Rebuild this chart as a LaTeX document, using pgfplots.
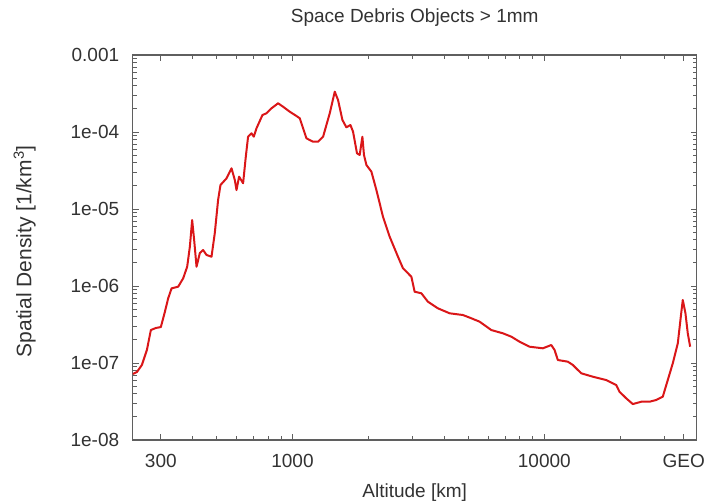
\documentclass[border=0pt]{standalone}
\usepackage{fontspec}
\setmainfont{Liberation Sans}
\usepackage{pgfplots}
\pgfplotsset{compat=1.18}

\definecolor{curvered}{RGB}{218,22,24}
\definecolor{axisgray}{RGB}{95,95,95}
\definecolor{textgray}{RGB}{50,50,50}
\newcommand\lbl{\fontsize{19}{22}\selectfont}

\begin{document}
\begin{tikzpicture}
\begin{axis}[
    at={(0,0)}, anchor=south west,
    scale only axis,
    width=564pt, height=385pt,
    xmode=log, ymode=log,
    xmin=232, xmax=40300,
    ymin=1e-8, ymax=1e-3,
    axis line style={axisgray, line width=1.2pt},
    every tick/.style={axisgray, line width=0.8pt},
    tick align=inside,
    major tick length=6pt, minor tick length=4pt,
    xtick={300,1000,10000,35786},
    xticklabels={300,1000,10000,GEO},
    minor xtick={300,400,500,600,700,800,900,2000,3000,4000,5000,6000,7000,8000,9000,20000,30000},
    ytick={1e-3,1e-4,1e-5,1e-6,1e-7,1e-8},
    yticklabels={0.001,1e-04,1e-05,1e-06,1e-07,1e-08},
    minor ytick={2e-8,3e-8,4e-8,5e-8,6e-8,7e-8,8e-8,9e-8,
                 2e-7,3e-7,4e-7,5e-7,6e-7,7e-7,8e-7,9e-7,
                 2e-6,3e-6,4e-6,5e-6,6e-6,7e-6,8e-6,9e-6,
                 2e-5,3e-5,4e-5,5e-5,6e-5,7e-5,8e-5,9e-5,
                 2e-4,3e-4,4e-4,5e-4,6e-4,7e-4,8e-4,9e-4},
    xticklabel style={font=\lbl, text=textgray, anchor=base, yshift=-27pt},
    yticklabel style={font=\lbl, text=textgray, anchor=east, xshift=-10pt},
    title={Space Debris Objects > 1mm},
    title style={font=\lbl, text=textgray, at={(0.5,1)}, anchor=base, yshift=27pt},
    xlabel={Altitude [km]},
    xlabel style={font=\lbl, text=textgray, at={(0.5,0)}, anchor=base, yshift=-57pt},
    ylabel={Spatial Density [1/km\textsuperscript{3}]},
    ylabel style={font=\fontsize{21}{24}\selectfont, text=textgray, at={(0,0.49)}, anchor=center, yshift=108pt},
]
\addplot[curvered, line width=2pt, line join=round] table {
x y
232.4 7.19e-8
241.1 7.64e-8
252.3 9.42e-8
264.1 1.475e-7
273.9 2.68e-7
286.7 2.85e-7
300.1 2.93e-7
311.3 4.60e-7
320.9 6.92e-7
331.1 9.33e-7
351.6 9.79e-7
368.1 1.259e-6
381.8 1.78e-6
391.3 3.24e-6
399.6 7.19e-6
406.9 3.96e-6
415.9 1.78e-6
428.6 2.68e-6
441.7 2.93e-6
455.7 2.53e-6
476.9 2.40e-6
491.5 4.88e-6
506.5 1.309e-5
517.7 2.05e-5
547.0 2.50e-5
572.7 3.38e-5
590.2 2.38e-5
599.4 1.765e-5
613.8 2.63e-5
636.7 2.16e-5
652.6 4.78e-5
666.4 8.69e-5
687.5 9.62e-5
702.1 8.69e-5
719.6 1.117e-4
760.1 1.662e-4
788.3 1.749e-4
825.3 2.03e-4
876.6 2.36e-4
917.5 2.13e-4
975.4 1.835e-4
1037 1.614e-4
1069 1.506e-4
1102 1.117e-4
1136 8.28e-5
1207 7.48e-5
1264 7.48e-5
1323 8.69e-5
1406 1.749e-4
1472 3.34e-4
1517 2.60e-4
1579 1.431e-4
1637 1.151e-4
1699 1.233e-4
1740 1.009e-4
1804 5.29e-5
1849 5.03e-5
1895 8.69e-5
1923 5.03e-5
1966 3.73e-5
2058 3.05e-5
2154 1.765e-5
2288 7.94e-6
2432 4.37e-6
2624 2.40e-6
2747 1.698e-6
2966 1.32e-6
3056 8.43e-7
3250 8.04e-7
3451 6.25e-7
3781 5.13e-7
4209 4.42e-7
4752 4.20e-7
5131 3.81e-7
5537 3.44e-7
6161 2.68e-7
6848 2.43e-7
7396 2.20e-7
7979 1.89e-7
8743 1.628e-7
9870 1.552e-7
10660 1.713e-7
10985 1.475e-7
11320 1.094e-7
12404 1.04e-7
12985 9.42e-8
14021 7.35e-8
15590 6.64e-8
17620 6.01e-8
19300 5.18e-8
19890 4.24e-8
21150 3.48e-8
22460 2.93e-8
24260 3.14e-8
26160 3.14e-8
27820 3.31e-8
29550 3.65e-8
30930 6.01e-8
32380 9.91e-8
33900 1.802e-7
34970 4.42e-7
35480 6.58e-7
36360 4.42e-7
37140 2.43e-7
37960 1.628e-7
};
\end{axis}
\pgfresetboundingbox
\path[use as bounding box] (-132.7pt,-60pt) rectangle (575.3pt,440pt);
\end{tikzpicture}
\end{document}
